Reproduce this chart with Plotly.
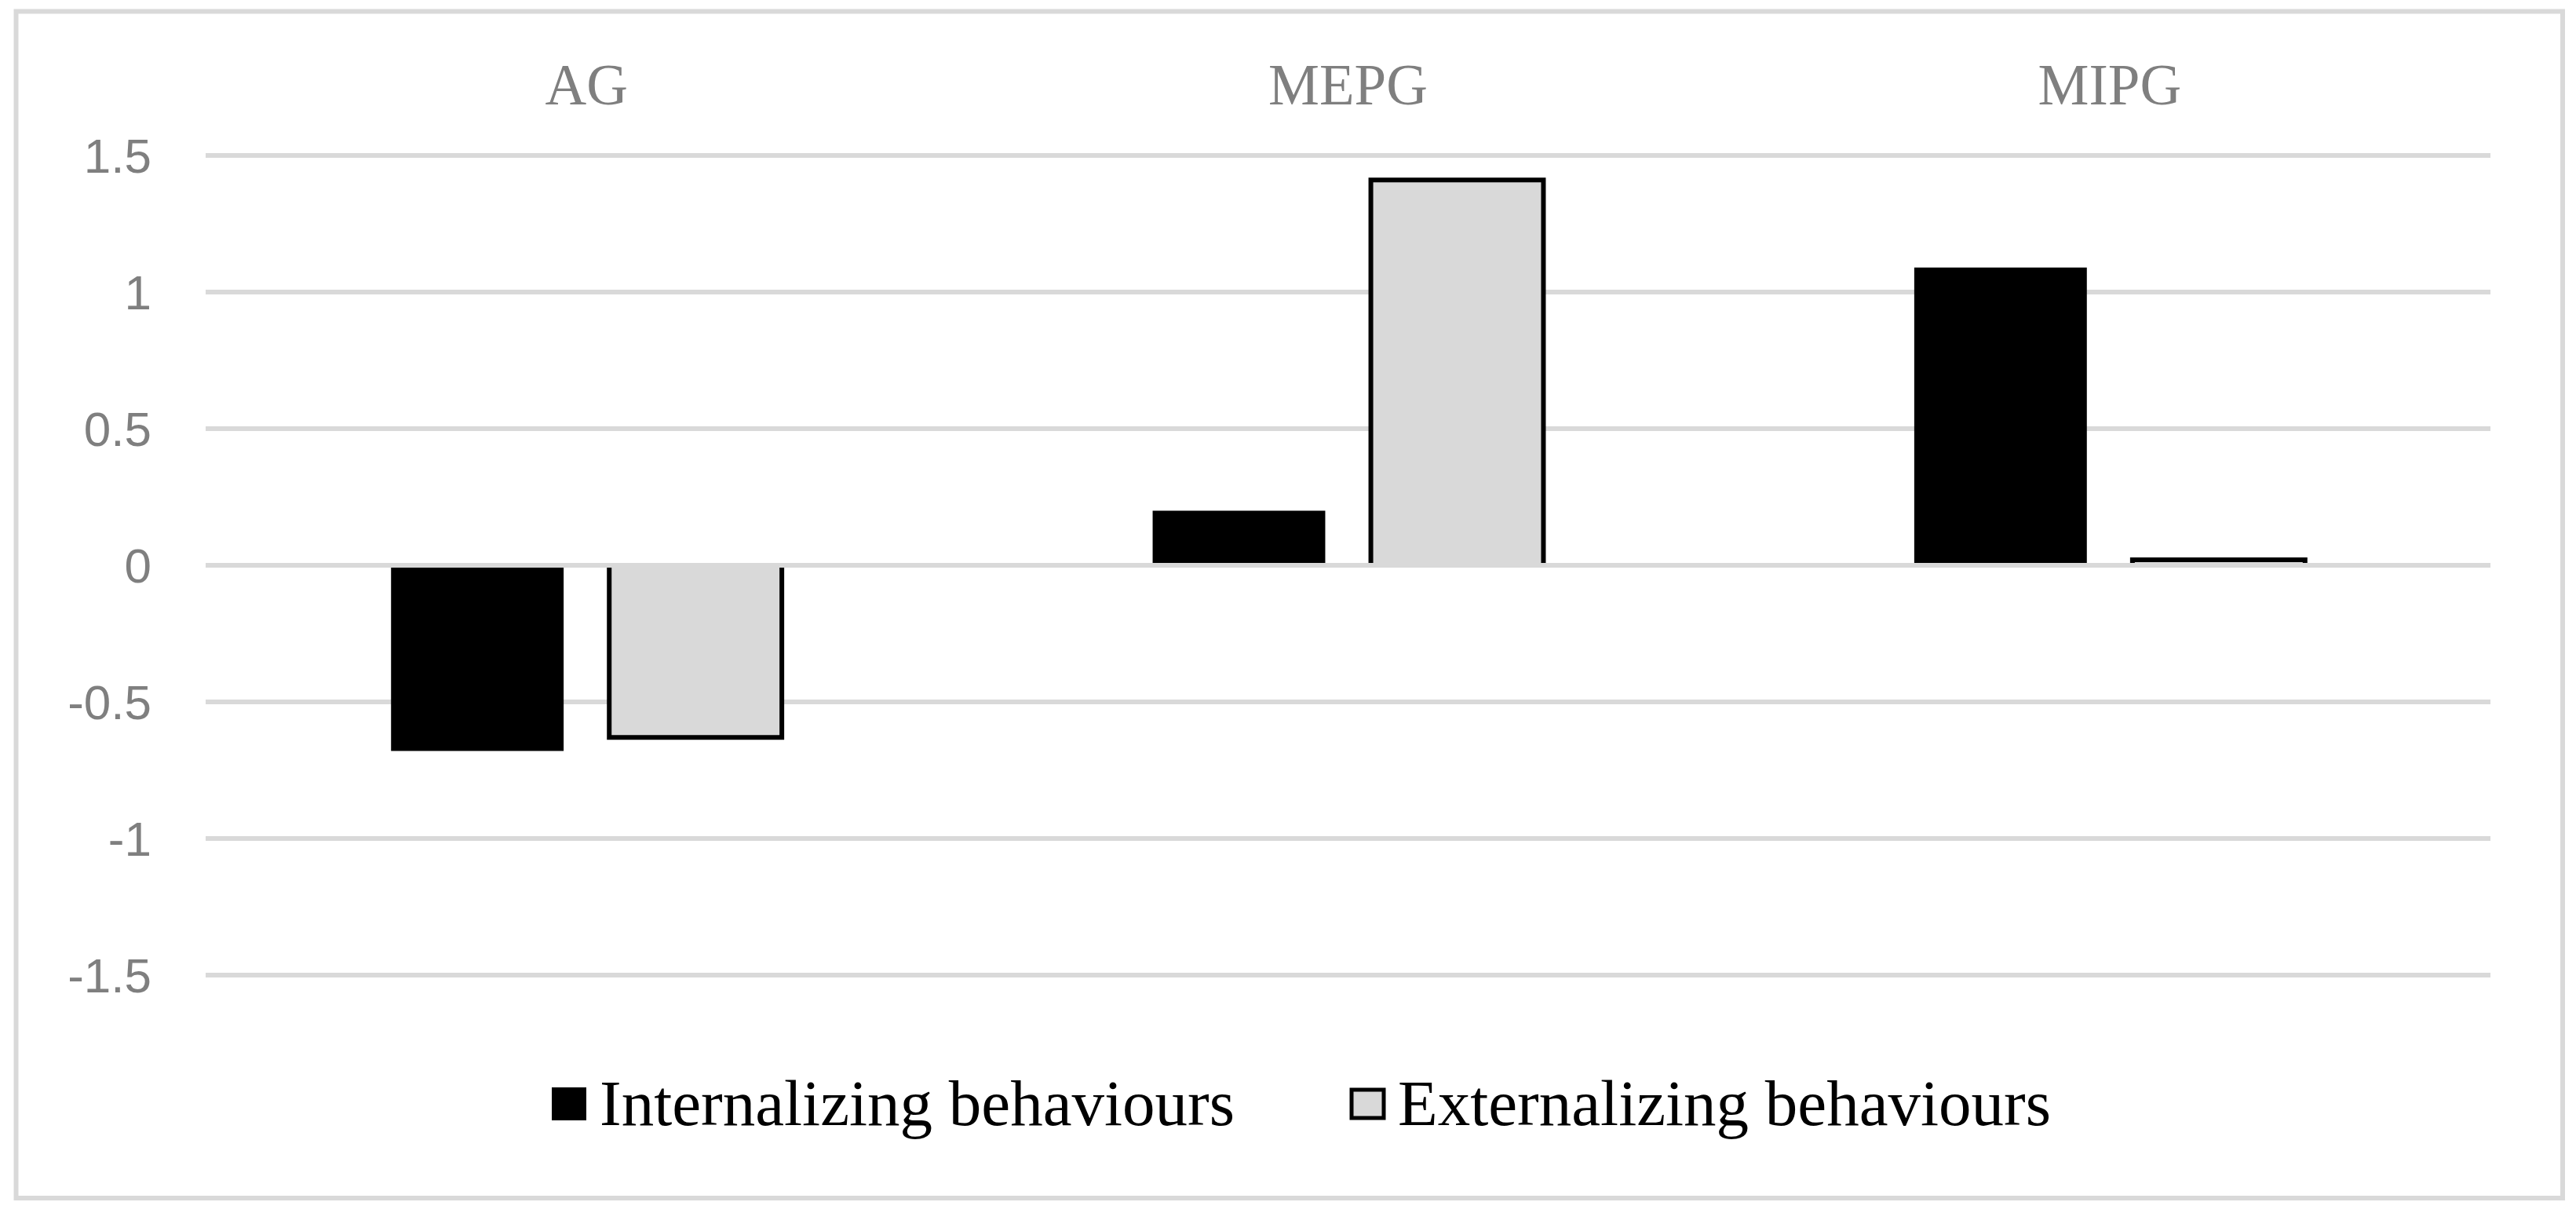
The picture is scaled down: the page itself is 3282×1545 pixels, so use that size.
import plotly.graph_objects as go

# ---- data ----
categories = ["AG", "MEPG", "MIPG"]
series_names = ["Internalizing behaviours", "Externalizing behaviours"]
internalizing = [-0.68, 0.20, 1.09]
externalizing = [-0.63, 1.41, 0.02]
y_tick_vals = [-1.5, -1.0, -0.5, 0.0, 0.5, 1.0, 1.5]
y_tick_text = ["-1.5", "-1", "-0.5", "0", "0.5", "1", "1.5"]

# ---- layout geometry (page pixels) ----
W, H = 3282, 1545
OFF = 8                      # default body margin of the html page
FW, FH = W - 2 * OFF, H - 2 * OFF
L, R, T, B = 262, 3173, 197, 1243


def px2x(p):
    return (p - L) / (R - L)


def px2y(p):
    return (B - p) / (B - T)


GRID = "#d9d9d9"
TXT_GRAY = "#7f7f7f"
SERIF = "Liberation Serif, Times New Roman, serif"
SANS = "Liberation Sans, Arial, sans-serif"

fig = go.Figure()
fig.add_trace(go.Bar(
    x=categories, y=internalizing, name=series_names[0],
    marker=dict(color="#000000", line=dict(width=0)),
))
fig.add_trace(go.Bar(
    x=categories, y=externalizing, name=series_names[1],
    marker=dict(color="#d9d9d9", line=dict(color="#000000", width=6)),
))

shapes = [
    # zero axis line drawn above bars
    dict(type="line", xref="paper", yref="y", x0=0, x1=1, y0=0, y1=0,
         line=dict(color=GRID, width=6), layer="above"),
    # outer chart border
    dict(type="rect", xref="paper", yref="paper",
         x0=px2x(20.5), x1=px2x(3265), y0=px2y(14.5), y1=px2y(1526),
         line=dict(color=GRID, width=6), fillcolor="rgba(0,0,0,0)", layer="below"),
    # legend keys
    dict(type="rect", xref="paper", yref="paper",
         x0=px2x(703), x1=px2x(747), y0=px2y(1385), y1=px2y(1427),
         line=dict(width=0), fillcolor="#000000"),
    dict(type="rect", xref="paper", yref="paper",
         x0=px2x(1722), x1=px2x(1763), y0=px2y(1388), y1=px2y(1424),
         line=dict(color="#000000", width=5), fillcolor="#d9d9d9"),
]

annotations = [
    dict(text=series_names[0], xref="paper", yref="paper",
         x=px2x(762), y=px2y(1405), xanchor="left", yanchor="middle",
         showarrow=False, font=dict(family=SERIF, size=83, color="#000000")),
    dict(text=series_names[1], xref="paper", yref="paper",
         x=px2x(1779), y=px2y(1405), xanchor="left", yanchor="middle",
         showarrow=False, font=dict(family=SERIF, size=83, color="#000000")),
]

fig.update_layout(
    width=FW, height=FH,
    margin=dict(l=L - OFF, r=FW - (R - OFF), t=T - OFF, b=FH - (B - OFF),
                autoexpand=False),
    paper_bgcolor="#ffffff", plot_bgcolor="#ffffff",
    barmode="group", bargap=0.427, bargroupgap=0.209,
    showlegend=False,
    shapes=shapes, annotations=annotations,
    xaxis=dict(
        type="category", side="top", showgrid=False, zeroline=False,
        showline=False, ticks="", ticklabelstandoff=48,
        tickfont=dict(family=SERIF, size=73, color=TXT_GRAY),
    ),
    yaxis=dict(
        range=[-1.503, 1.503], tickmode="array",
        tickvals=y_tick_vals, ticktext=y_tick_text,
        showgrid=True, gridcolor=GRID, gridwidth=6,
        zeroline=False, showline=False, ticks="",
        ticklabelstandoff=68,
        tickfont=dict(family=SANS, size=62, color=TXT_GRAY),
    ),
)

fig.write_html("out.html")
